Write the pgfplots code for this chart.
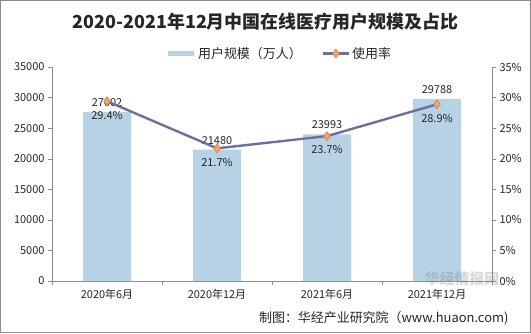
\documentclass[border=0pt]{standalone}
\usepackage{pgfplots}
\pgfplotsset{compat=1.18}
\usepackage{fontspec}
\setmainfont{Noto Sans CJK SC}
\definecolor{barc}{HTML}{B7D2E5}
\definecolor{linec}{HTML}{6E6F9E}
\definecolor{markc}{HTML}{F2A46A}
\definecolor{markd}{HTML}{C8845A}
\definecolor{axc}{HTML}{8C8C8C}
\definecolor{txt}{HTML}{262626}
\begin{document}
\begin{tikzpicture}[x=1bp,y=1bp]
\begin{axis}[width=440bp, height=214bp, scale only axis,
  xmin=-0.5, xmax=3.5, ymin=0, ymax=35000,
  ytick={0,5000,...,35000},
  scaled y ticks=false,
  yticklabel style={/pgf/number format/1000 sep={}},
  /pgf/number format/assume math mode=true,
  axis y line*=left, axis x line*=bottom,
  axis line style={axc, line width=0.6bp, -},
  xtick={0,1,2,3},
  xticklabels={2020年6月,2020年12月,2021年6月,2021年12月},
  minor xtick={-0.5,0.5,1.5,2.5,3.5},
  tick align=outside,
  major tick length=4bp, minor tick length=4bp,
  major x tick style={draw=none},
  minor x tick style={draw=axc},
  ytick style={draw=axc},
  tick label style={font=\fontsize{11}{13}\selectfont, text=txt},
  xticklabel style={yshift=-1bp},
  ybar, bar width=48bp,
  nodes near coords,
  every node near coord/.append style={font=\fontsize{11}{13}\selectfont, text=txt, yshift=2bp, /pgf/number format/1000 sep={}},
]
\addplot[fill=barc, draw=none] coordinates {(0,27602) (1,21480) (2,23993) (3,29788)};
\end{axis}
\begin{axis}[width=440bp, height=214bp, scale only axis,
  xmin=-0.5, xmax=3.5, ymin=0, ymax=35,
  ytick={0,5,...,35},
  yticklabel={\pgfmathprintnumber{\tick}\%},
  /pgf/number format/assume math mode=true,
  axis y line*=right, axis x line=none,
  axis line style={axc, line width=0.6bp, -},
  tick align=outside, major tick length=4bp,
  ytick style={draw=axc},
  tick label style={font=\fontsize{11}{13}\selectfont, text=txt},
  legend style={at={(0.516,1)}, anchor=south, yshift=3bp, draw=none, fill=none,
    legend columns=2, font=\fontsize{13}{15}\selectfont, text=txt,
    /tikz/every even column/.append style={column sep=18bp}},
  legend image code/.code={\draw[#1] (0bp,0bp) -- (26bp,0bp); \path[#1, mark repeat=1] plot coordinates {(13bp,0bp)};},
  nodes near coords={\pgfmathprintnumber[fixed,precision=1,fixed zerofill]{\pgfplotspointmeta}\%},
  every node near coord/.append style={font=\fontsize{11}{13}\selectfont, text=txt, anchor=north, yshift=-6bp},
]
\addlegendimage{barc, line width=5bp}
\addlegendentry{用户规模（万人）}
\addplot[linec, line width=2.4bp, mark=diamond*, mark size=4.5bp, mark options={fill=markc, draw=markd, line width=0.6bp}] coordinates {(0,29.4) (1,21.7) (2,23.7) (3,28.9)};
\addlegendentry{使用率}
\end{axis}
\node[font=\fontsize{18}{20}\selectfont\bfseries, text=txt] at (213.5,259) {2020-2021年12月中国在线医疗用户规模及占比};
\node[font=\fontsize{13}{15}\selectfont, text=txt, anchor=east] at (460,-37) {制图：华经产业研究院（www.huaon.com)};
\node[font=\fontsize{15}{17}\selectfont\bfseries, text=gray, opacity=0.3] at (410,2) {华经情报网};
\draw[axc, line width=0.8bp] (-51.6,-51.6) rectangle (478.6,280.6);
\pgfresetboundingbox
\path[use as bounding box] (-52,-52) rectangle (479,281);
\end{tikzpicture}
\end{document}
